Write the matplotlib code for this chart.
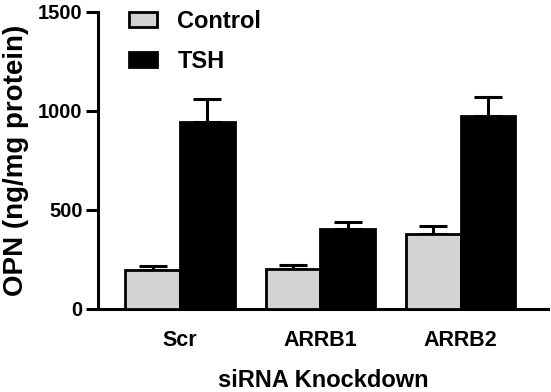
import numpy as np
import matplotlib.pyplot as plt

plt.rcParams['font.family'] = ['Liberation Sans', 'DejaVu Sans']
plt.rcParams['font.weight'] = 'bold'

groups = ["Scr", "ARRB1", "ARRB2"]
control = [197, 203, 377]
control_err = [22, 19, 44]
tsh = [944, 405, 976]
tsh_err = [118, 36, 96]

x = np.arange(len(groups))
w = 0.39

fig = plt.figure(figsize=(5.51, 3.92), dpi=100)
ax = fig.add_axes([98 / 551, 1 - 309 / 392, 450 / 551, 297 / 392])

err_kw = dict(elinewidth=2.2, capsize=10, capthick=2.2, ecolor="black")
ax.bar(x - w / 2, control, w, color="#d3d3d3", edgecolor="black", linewidth=2,
       label="Control", zorder=3)
ax.errorbar(x - w / 2, control, yerr=[np.zeros(3), control_err], fmt="none",
            zorder=2, **err_kw)
ax.bar(x + w / 2, tsh, w, color="black", edgecolor="black", linewidth=2,
       label="TSH", zorder=3)
ax.errorbar(x + w / 2, tsh, yerr=[np.zeros(3), tsh_err], fmt="none",
            zorder=2, **err_kw)

ax.set_xlim(-0.586, 2.624)
ax.set_ylim(0, 1500)
ax.set_yticks([0, 500, 1000, 1500])
ax.set_xticks(x)
ax.set_xticklabels(groups, fontsize=15.5, fontweight="bold")
ax.tick_params(axis="x", length=0, pad=15)
ax.tick_params(axis="y", length=9, width=2.2, labelsize=14.5, pad=2)
for lab in ax.get_yticklabels():
    lab.set_fontweight("bold")

ax.spines["top"].set_visible(False)
ax.spines["right"].set_visible(False)
ax.spines["left"].set_linewidth(2.2)
ax.spines["bottom"].set_linewidth(2.2)

ax.set_ylabel("OPN (ng/mg protein)", fontsize=20, fontweight="bold")
ax.yaxis.set_label_coords(-0.153, 0.50)
ax.set_xlabel("siRNA Knockdown", fontsize=17, fontweight="bold", labelpad=13)

ax.legend(loc="upper left", bbox_to_anchor=(129 / 551, 1 - 10 / 392),
          bbox_transform=fig.transFigure, frameon=False, borderpad=0,
          borderaxespad=0, fontsize=17, handlelength=1.2, handleheight=0.6,
          labelspacing=0.7, handletextpad=0.85)

fig.savefig("out.png", dpi=100)
